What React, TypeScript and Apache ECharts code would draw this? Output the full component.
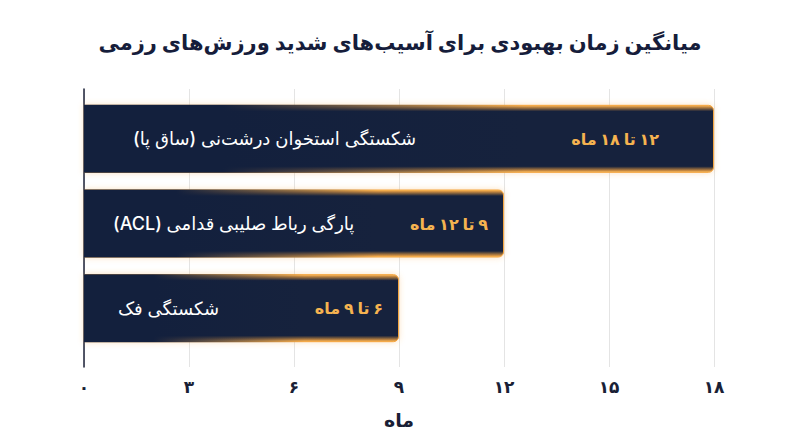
import { useEffect, useRef } from 'react';
import * as echarts from 'echarts';

const TITLE = 'میانگین زمان بهبودی برای آسیب‌های شدید ورزش‌های رزمی';
const AXIS_NAME = 'ماه';

const injuries = ['شکستگی استخوان درشت‌نی (ساق پا)', 'پارگی رباط صلیبی قدامی (ACL)', 'شکستگی فک'];
const maxMonths = [18, 12, 9];
const rangeLabels = ['۱۲ تا ۱۸ ماه', '۹ تا ۱۲ ماه', '۶ تا ۹ ماه'];
const xTicks = [0, 3, 6, 9, 12, 15, 18];

const NAVY = '#13203d';
const ORANGE = '#f4a53f';
const FONT = "Inter, 'DejaVu Sans', sans-serif";

// wrap in RLE/PDF so the browser lays mixed text out right-to-left
const rtl = (s: string) => '\u202B' + s + '\u202C';
const faDigits = (n: number) => String(n).replace(/\d/g, (d) => '۰۱۲۳۴۵۶۷۸۹'[Number(d)]);

const nameGap = [49, 29, 34];
const valueGap = [55, 16, 16];

export default function App() {
  const ref = useRef<HTMLDivElement | null>(null);

  useEffect(() => {
    if (!ref.current) {
      return;
    }
    const chart = echarts.init(ref.current, null, { renderer: 'svg' });
    chart.setOption({
      animation: false,
      backgroundColor: '#ffffff',
      textStyle: { fontFamily: FONT },
      title: {
        text: rtl(TITLE),
        left: 'center',
        top: 27,
        textStyle: { fontSize: 21, fontWeight: 'bold', color: '#161d3b', fontFamily: FONT },
      },
      grid: [
        { left: 84, right: 86, top: 89, bottom: 80 },
        { left: 84, right: 86, top: 96.5, bottom: 96.5 },
      ],
      xAxis: [
        {
          gridIndex: 0,
          type: 'value',
          min: 0,
          max: 18,
          interval: 3,
          axisLine: { show: false },
          axisTick: { show: false },
          splitLine: { lineStyle: { color: '#e4e4e4', width: 1 } },
          axisLabel: {
            margin: 11,
            fontSize: 17,
            fontWeight: 'bold',
            color: '#1a1f36',
            formatter: (v: number) => (xTicks.includes(v) ? faDigits(v) : ''),
          },
          name: AXIS_NAME,
          nameLocation: 'middle',
          nameGap: 44,
          nameTextStyle: { fontSize: 19, fontWeight: 'bold', color: '#1a1f36' },
        },
        { gridIndex: 1, type: 'value', min: 0, max: 18, show: false },
      ],
      yAxis: [
        {
          gridIndex: 0,
          type: 'category',
          inverse: true,
          data: injuries,
          axisLine: { show: true, lineStyle: { color: '#1c2238', width: 1.5 } },
          axisTick: { show: false },
          axisLabel: { show: false },
          splitLine: { show: false },
        },
        { gridIndex: 1, type: 'category', inverse: true, data: injuries, show: false },
      ],
      series: [
        {
          type: 'bar',
          xAxisIndex: 1,
          yAxisIndex: 1,
          barWidth: 68,
          data: maxMonths.map((v, i) => ({
            value: v,
            label: { distance: valueGap[i] },
          })),
          itemStyle: {
            borderRadius: [0, 5, 5, 0],
            borderColor: ORANGE,
            borderWidth: 1,
            shadowBlur: 6,
            shadowColor: 'rgba(244,165,63,0.35)',
            color: new echarts.graphic.LinearGradient(0, 0, 0, 1, [
              { offset: 0, color: '#ffc266' },
              { offset: 0.025, color: '#c98a3f' },
              { offset: 0.09, color: NAVY },
              { offset: 0.91, color: NAVY },
              { offset: 0.975, color: '#c98a3f' },
              { offset: 1, color: '#ffc266' },
            ]),
          },
          label: {
            show: true,
            position: 'insideRight',
            color: '#f5b350',
            fontSize: 16,
            fontWeight: 'bold',
            formatter: (p: { dataIndex: number }) => rtl(rangeLabels[p.dataIndex]),
          },
          silent: true,
        },
        {
          type: 'bar',
          xAxisIndex: 1,
          yAxisIndex: 1,
          barWidth: 68,
          barGap: '-100%',
          data: maxMonths.map((v, i) => ({
            value: v,
            label: { distance: nameGap[i] },
          })),
          itemStyle: {
            borderRadius: [0, 5, 5, 0],
            color: new echarts.graphic.LinearGradient(0, 0, 1, 0, [
              { offset: 0, color: NAVY },
              { offset: 0.22, color: NAVY },
              { offset: 0.7, color: 'rgba(19,32,61,0)' },
              { offset: 1, color: 'rgba(19,32,61,0)' },
            ]),
          },
          label: {
            show: true,
            position: 'insideLeft',
            color: '#ffffff',
            fontSize: 18,
            fontWeight: 500,
            formatter: (p: { dataIndex: number }) => rtl(injuries[p.dataIndex]),
          },
          silent: true,
        },
      ],
    });
    return () => {
      chart.dispose();
    };
  }, []);

  return <div ref={ref} style={{ position: 'fixed', left: 0, top: 0, width: 800, height: 447 }} />;
}
